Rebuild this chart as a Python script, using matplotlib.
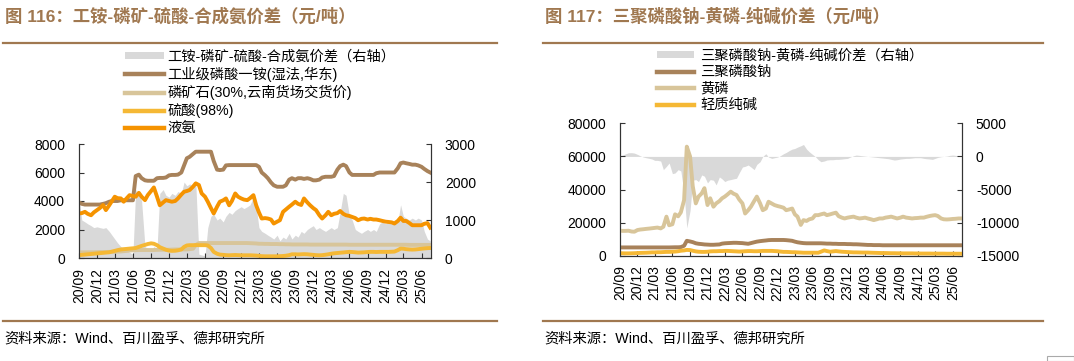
import matplotlib
matplotlib.use('Agg')
import matplotlib.pyplot as plt
from matplotlib.patches import Patch, Rectangle
from matplotlib.lines import Line2D
import pandas as pd
import datetime as dt

plt.rcParams['font.family'] = ['Liberation Sans', 'Noto Sans CJK SC', 'DejaVu Sans']
plt.rcParams['axes.unicode_minus'] = False

# ---------------- data ----------------
dates = pd.date_range('2020-09-01', periods=118, freq='SMS')
tick_labels = ['20/09', '20/12', '21/03', '21/06', '21/09', '21/12', '22/03', '22/06',
               '22/09', '22/12', '23/03', '23/06', '23/09', '23/12', '24/03', '24/06',
               '24/09', '24/12', '25/03', '25/06']

# Figure 116
left_labels = ['工铵-磷矿-硫酸-合成氨价差（右轴）', '工业级磷酸一铵(湿法,华东)',
               '磷矿石(30%,云南货场交货价)', '硫酸(98%)', '液氨']
map_price = [3900, 3800, 3750, 3750, 3750, 3750, 3750, 3750, 3800, 3850,
             3950, 4000, 4000, 4000, 4050, 4050, 4050, 4050, 4050, 5750,
             5850, 5600, 5450, 5420, 5420, 5420, 5600, 5620, 5620, 5650,
             5800, 5830, 5830, 5850, 6000, 6500, 7000, 7100, 7300, 7460,
             7460, 7460, 7460, 7460, 7460, 6800, 6200, 6170, 6200, 6500,
             6520, 6520, 6520, 6520, 6520, 6520, 6520, 6520, 6520, 6520,
             6400, 6000, 5800, 5600, 5300, 5100, 5000, 5000, 5000, 5100,
             5500, 5600, 5500, 5600, 5600, 5550, 5600, 5550, 5450, 5450,
             5500, 5650, 5700, 5700, 5700, 5750, 6200, 6450, 6550, 6450,
             6000, 5830, 5830, 5830, 5830, 5830, 5830, 5830, 5830, 5950,
             6000, 6000, 6000, 6000, 6000, 6000, 6300, 6650, 6700, 6650,
             6600, 6550, 6550, 6500, 6400, 6250, 6100, 6000]
rock_price = [400, 400, 400, 400, 400, 400, 410, 420, 420, 420,
              430, 430, 440, 450, 460, 480, 500, 520, 540, 550,
              560, 560, 560, 560, 560, 560, 570, 580, 580, 580,
              580, 590, 600, 600, 600, 600, 600, 620, 650, 900,
              1050, 1050, 1050, 1050, 1050, 1050, 1050, 1050, 1050, 1050,
              1050, 1050, 1050, 1050, 1050, 1050, 1050, 1040, 1030, 1020,
              1000, 1000, 990, 990, 980, 980, 980, 970, 970, 960,
              960, 950, 950, 950, 950, 950, 950, 940, 940, 940,
              940, 940, 940, 940, 940, 940, 940, 940, 940, 940,
              930, 930, 930, 930, 930, 930, 930, 930, 930, 930,
              930, 930, 930, 930, 930, 930, 930, 930, 930, 930,
              920, 920, 920, 920, 920, 920, 920, 920]
acid_price = [200, 220, 240, 260, 280, 300, 320, 340, 360, 380,
              400, 450, 500, 550, 600, 620, 640, 660, 680, 700,
              780, 850, 920, 980, 1030, 1000, 900, 760, 660, 580,
              520, 500, 510, 540, 600, 780, 880, 900, 900, 910,
              900, 900, 900, 880, 700, 430, 300, 240, 220, 200,
              190, 200, 210, 200, 190, 190, 190, 190, 180, 170,
              150, 130, 120, 120, 120, 120, 120, 130, 140, 160,
              200, 260, 260, 250, 260, 270, 260, 240, 220, 200,
              190, 200, 230, 260, 300, 330, 350, 370, 390, 410,
              430, 420, 400, 380, 390, 400, 420, 430, 430, 420,
              430, 430, 430, 430, 440, 450, 550, 660, 650, 620,
              600, 590, 600, 620, 650, 670, 690, 700]
ammonia_price = [3125, 3150, 3240, 3100, 3000, 3200, 3360, 3500, 3720, 3360,
                 3700, 4000, 4300, 4200, 4180, 3950, 4200, 4410, 4350, 4300,
                 4570, 4300, 4060, 4410, 4700, 4950, 4300, 3700, 3900, 4060,
                 4000, 3950, 4000, 4180, 4450, 4650, 4700, 4770, 5000, 5240,
                 5120, 4530, 4300, 3950, 3500, 3125, 3600, 3950, 4050, 4180,
                 3700, 4000, 4530, 4300, 4180, 4100, 4060, 4200, 4410, 3700,
                 3200, 2770, 2800, 2770, 2700, 2420, 2550, 2650, 3240, 3400,
                 3600, 3750, 3950, 3800, 3720, 4180, 3900, 3700, 3500, 3360,
                 3000, 2770, 3000, 3240, 3000, 3100, 3150, 3300, 3100, 3000,
                 2950, 2880, 2800, 2650, 2750, 2770, 2700, 2750, 2700, 2700,
                 2650, 2600, 2550, 2530, 2500, 2420, 2600, 2830, 2600, 2600,
                 2450, 2300, 2300, 2300, 2300, 2400, 2450, 2130]
map_spread = [1600, 1000, 950, 900, 850, 800, 820, 800, 780, 800,
              700, 600, 500, 400, 300, 250, 200, 150, 100, 1800,
              1700, 1500, 300, 250, 200, 300, 250, 1700, 1800, 1650,
              1600, 1700, 1650, 1750, 1700, 2000, 1900, 1950, 1900, 2000,
              100, 80, 60, 800, 1100, 1150, 1000, 1050, 950, 1100,
              1200, 1150, 1250, 1300, 1350, 1300, 1350, 1400, 1600, 1350,
              800, 700, 650, 600, 550, 500, 600, 450, 550, 500,
              650, 500, 600, 550, 700, 650, 750, 800, 850, 750,
              800, 750, 700, 750, 800, 750, 800, 1200, 1700, 1650,
              1100, 1000, 750, 700, 650, 700, 750, 700, 750, 700,
              900, 950, 900, 950, 900, 1000, 950, 1400, 1100, 1050,
              1000, 1050, 1000, 1050, 1000, 700, 500, 450]

# Figure 117
right_labels = ['三聚磷酸钠-黄磷-纯碱价差（右轴）', '三聚磷酸钠', '黄磷', '轻质纯碱']
stpp_price = [5000, 5000, 5000, 5000, 5000, 5000, 5000, 5000, 5000, 5000,
              5000, 5000, 5000, 5000, 5000, 5000, 5000, 5000, 5050, 5100,
              5100, 5200, 6000, 9000, 8600, 8200, 7500, 7200, 7000, 6800,
              6700, 6600, 6600, 6700, 6800, 7300, 7500, 7600, 7700, 7800,
              7800, 7700, 7600, 7400, 7200, 7600, 8100, 8500, 8800, 9000,
              9200, 9400, 9500, 9500, 9500, 9500, 9500, 9400, 9200, 9000,
              8500, 8100, 7800, 7600, 7500, 7500, 7500, 7500, 7500, 7500,
              7400, 7300, 7300, 7200, 7200, 7100, 7100, 7100, 7000, 7000,
              6900, 6900, 6800, 6700, 6600, 6500, 6500, 6400, 6400, 6400,
              6300, 6300, 6300, 6300, 6300, 6300, 6300, 6300, 6300, 6300,
              6300, 6300, 6300, 6300, 6300, 6300, 6300, 6300, 6300, 6300,
              6300, 6300, 6300, 6300, 6300, 6300, 6300, 6300]
p4_price = [15100, 15000, 15000, 15100, 14600, 14500, 15500, 15800, 16000, 16200,
            16400, 16600, 16800, 17000, 16500, 17500, 23600, 18400, 19000, 25000,
            23800, 26200, 33600, 65900, 60000, 42000, 31600, 35700, 37700, 40800,
            30600, 34700, 29600, 31600, 33000, 34700, 35700, 37000, 38700, 37500,
            36700, 34000, 31600, 25500, 27500, 29600, 33000, 35700, 31600, 27500,
            28500, 32600, 31500, 30600, 30000, 29600, 29000, 27500, 28000, 28500,
            25000, 23600, 18600, 21500, 21000, 22000, 22500, 24500, 24500, 25000,
            25500, 24500, 25000, 25500, 26000, 23900, 23000, 22500, 23000, 23300,
            23600, 23000, 22500, 22700, 23000, 22500, 22000, 21500, 22000, 22500,
            22500, 23000, 23300, 23600, 23000, 22500, 23000, 23600, 23000, 22800,
            22500, 22700, 22800, 23000, 23000, 23500, 24000, 24300, 24500, 24000,
            22500, 22000, 21900, 22000, 22200, 22300, 22500, 22500]
soda_price = [1500, 1450, 1400, 1400, 1450, 1500, 1600, 1700, 1750, 1800,
              1900, 2000, 2000, 2100, 2100, 2200, 2300, 2300, 2400, 2500,
              2700, 3000, 3200, 3500, 3400, 3000, 2600, 2400, 2300, 2300,
              2400, 2600, 2700, 2700, 2800, 2800, 2900, 2900, 2800, 2700,
              2600, 2500, 2600, 2700, 2800, 2800, 2700, 2700, 2800, 2900,
              2900, 2900, 2900, 2800, 2700, 2500, 2300, 2300, 2200, 2100,
              2100, 2000, 1900, 1800, 1800, 1800, 1800, 1800, 1800, 2400,
              3200, 2800, 2400, 2600, 2800, 2600, 2400, 2300, 2200, 2100,
              2000, 2000, 1950, 1900, 1900, 1900, 1800, 1750, 1700, 1650,
              1600, 1600, 1550, 1500, 1500, 1450, 1450, 1400, 1400, 1400,
              1400, 1350, 1350, 1300, 1300, 1300, 1300, 1250, 1250, 1250,
              1250, 1250, 1200, 1200, 1200, 1200, 1200, 1200]
stpp_spread = [100, 200, 400, 550, 560, 500, 300, 100, -100, -200,
               -300, -400, -600, -600, -700, -2000, -1500, -1000, -2600, -2500,
               -2000, -2200, -5600, -10800, -8200, -3600, -3500, -3800, -2800, -3000,
               -4000, -3500, -3600, -4300, -3100, -3400, -3800, -3600, -3500, -3400,
               -3300, -2500, -1600, -1500, -1300, -1600, -2000, -1200, -800, 0,
               400, -100, -300, -200, -100, 100, 400, 600, 900, 1100,
               1200, 1400, 1600, 1800, 1100, 700, 300, 0, -500, -800,
               -700, -550, -500, -500, -450, -450, -400, -350, -300, -100,
               100, 200, 150, 100, 50, 0, -50, -100, -150, -200,
               -250, -300, -350, -450, -550, -500, -400, -350, -300, -300,
               -250, -200, -200, -200, -300, -350, -400, -450, -300, -150,
               -50, 0, 50, 150, 200, 150, 100, 100]

# ---------------- style ----------------
C_BROWN = '#A8825A'
C_TAN = '#D8C59A'
C_YEL = '#F5B835'
C_ORG = '#F59300'
C_GRAY = '#D9D9D9'
C_TITLE = '#A07850'
W, H = 1074, 361
LW = 2.8
TXT = ['Liberation Sans', 'Noto Sans CJK SC']

fig = plt.figure(figsize=(W / 100, H / 100), dpi=100)
tick_pos = [dt.datetime(2000 + int(s[:2]), int(s[3:]), 1) for s in tick_labels]
xend = dates[-1] + pd.Timedelta(days=4)


def frac(x0, y0, x1, y1):
    return [x0 / W, 1 - y1 / H, (x1 - x0) / W, (y1 - y0) / H]


def style(ax, ax2):
    for a in (ax, ax2):
        a.spines['top'].set_visible(False)
        for s in ('left', 'right', 'bottom'):
            a.spines[s].set_color('#333333')
            a.spines[s].set_linewidth(0.8)
        a.tick_params(axis='both', direction='in', length=3.5, width=0.8,
                      colors='#333333', labelcolor='black', labelsize=10, pad=10)
    ax.set_xlim(dates[0], xend)
    ax.set_xticks(tick_pos)
    ax.set_xticklabels(tick_labels, rotation=90, fontsize=10)
    ax.tick_params(axis='x', pad=7)
    ax.set_zorder(ax2.get_zorder() + 1)
    ax.patch.set_visible(False)


# ----- left chart -----
ax = fig.add_axes(frac(79, 144, 431, 258))
ax2 = ax.twinx()
ax2.fill_between(dates, 0, map_spread, color=C_GRAY, lw=0)
ax.plot(dates, map_price, color=C_BROWN, lw=LW)
ax.plot(dates, rock_price, color=C_TAN, lw=LW)
ax.plot(dates, acid_price, color=C_YEL, lw=LW)
ax.plot(dates, ammonia_price, color=C_ORG, lw=LW)
ax.set_ylim(0, 8000)
ax.set_yticks([0, 2000, 4000, 6000, 8000])
ax2.set_ylim(0, 3000)
ax2.set_yticks([0, 1000, 2000, 3000])
style(ax, ax2)

handles_l = [Patch(facecolor=C_GRAY, edgecolor='none'),
             Line2D([], [], color=C_BROWN, lw=3.2),
             Line2D([], [], color=C_TAN, lw=3.2),
             Line2D([], [], color=C_YEL, lw=3.2),
             Line2D([], [], color=C_ORG, lw=3.2)]
fig.legend(handles_l, left_labels, loc='upper left', bbox_to_anchor=(125 / W, 1 - 49.5 / H),
           frameon=False, borderpad=0, borderaxespad=0, handlelength=2.75,
           handleheight=0.45, handletextpad=0.2, labelspacing=0.22,
           prop={'family': TXT, 'size': 10.3})

# ----- right chart -----
bx = fig.add_axes(frac(620, 123.3, 962, 255.7))
bx2 = bx.twinx()
bx2.fill_between(dates, 0, stpp_spread, color=C_GRAY, lw=0)
bx.plot(dates, stpp_price, color=C_BROWN, lw=LW)
bx.plot(dates, p4_price, color=C_TAN, lw=LW)
bx.plot(dates, soda_price, color=C_YEL, lw=LW)
bx.set_ylim(0, 80000)
bx.set_yticks([0, 20000, 40000, 60000, 80000])
bx2.set_ylim(-15000, 5000)
bx2.set_yticks([-15000, -10000, -5000, 0, 5000])
style(bx, bx2)

handles_r = [Patch(facecolor=C_GRAY, edgecolor='none'),
             Line2D([], [], color=C_BROWN, lw=3.2),
             Line2D([], [], color=C_TAN, lw=3.2),
             Line2D([], [], color=C_YEL, lw=3.2)]
fig.legend(handles_r, right_labels, loc='upper left', bbox_to_anchor=(657 / W, 1 - 48.5 / H),
           frameon=False, borderpad=0, borderaxespad=0, handlelength=2.6,
           handleheight=0.45, handletextpad=0.4, labelspacing=0.18,
           prop={'family': TXT, 'size': 10.3})

# ----- titles, rules, sources -----
for x0, x1, title in [(3, 497, '图 116：工铵-磷矿-硫酸-合成氨价差（元/吨）'),
                      (543, 1043, '图 117：三聚磷酸钠-黄磷-纯碱价差（元/吨）')]:
    fig.text((x0 + 2) / W, 1 - 16 / H, title, fontsize=12.5, fontweight='bold',
             color=C_TITLE, va='center', ha='left', family=TXT)
    fig.add_artist(Line2D([x0 / W, x1 / W], [1 - 43 / H] * 2, transform=fig.transFigure,
                          color=C_TITLE, lw=1.6))
    fig.add_artist(Line2D([x0 / W, x1 / W], [1 - 321 / H] * 2, transform=fig.transFigure,
                          color=C_TITLE, lw=1.6))
    fig.text((x0 + 1) / W, 1 - 339 / H, '资料来源：Wind、百川盈孚、德邦研究所', fontsize=10.3,
             color='black', va='center', ha='left', family=TXT)

fig.add_artist(Rectangle((1047 / W, 0), 27 / W, 5 / H, transform=fig.transFigure,
                         facecolor='white', edgecolor='#AAAAAA', lw=0.8))

fig.savefig('out.png', dpi=100)
